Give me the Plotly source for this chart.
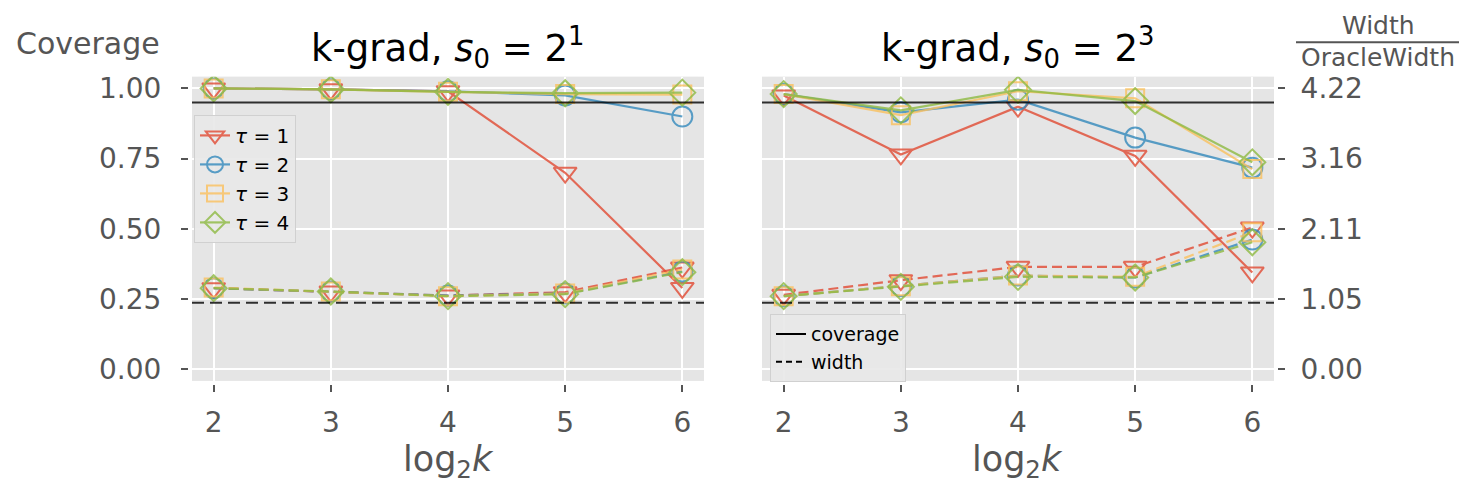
import plotly.graph_objects as go

# ---------------------------------------------------------------- data
log2k = [2, 3, 4, 5, 6]
tau_labels = ["<i>τ</i> = 1", "<i>τ</i> = 2", "<i>τ</i> = 3", "<i>τ</i> = 4"]

# k-grad, s0 = 2^1 : empirical coverage
cov_s1_tau1 = [1.000, 0.997, 0.990, 0.700, 0.290]
cov_s1_tau2 = [1.000, 0.997, 0.990, 0.975, 0.900]
cov_s1_tau3 = [1.000, 0.997, 0.988, 0.980, 0.978]
cov_s1_tau4 = [1.000, 0.997, 0.988, 0.983, 0.985]
# k-grad, s0 = 2^1 : width / oracle width
wid_s1_tau1 = [1.22, 1.17, 1.11, 1.16, 1.53]
wid_s1_tau2 = [1.22, 1.17, 1.11, 1.14, 1.47]
wid_s1_tau3 = [1.23, 1.17, 1.10, 1.14, 1.50]
wid_s1_tau4 = [1.22, 1.17, 1.10, 1.13, 1.46]

# k-grad, s0 = 2^3 : empirical coverage
cov_s3_tau1 = [0.975, 0.765, 0.935, 0.760, 0.345]
cov_s3_tau2 = [0.980, 0.915, 0.960, 0.825, 0.718]
cov_s3_tau3 = [0.980, 0.905, 0.990, 0.965, 0.713]
cov_s3_tau4 = [0.980, 0.922, 0.995, 0.955, 0.737]
# k-grad, s0 = 2^3 : width / oracle width
wid_s3_tau1 = [1.12, 1.34, 1.54, 1.54, 2.13]
wid_s3_tau2 = [1.10, 1.25, 1.41, 1.38, 1.95]
wid_s3_tau3 = [1.10, 1.25, 1.41, 1.39, 2.06]
wid_s3_tau4 = [1.10, 1.24, 1.39, 1.38, 1.91]

nominal_coverage = 0.95
oracle_ratio = 1.0
width_scale = 4.22          # width axis = coverage axis * width_scale
width_ticktext = ["0.00", "1.05", "2.11", "3.16", "4.22"]
coverage_ticks = [0.0, 0.25, 0.5, 0.75, 1.0]

panel_titles = ["k-grad, <i>s</i><sub>0</sub> = 2<sup>1</sup>",
                "k-grad, <i>s</i><sub>0</sub> = 2<sup>3</sup>"]

panels = [
    ([cov_s1_tau1, cov_s1_tau2, cov_s1_tau3, cov_s1_tau4],
     [wid_s1_tau1, wid_s1_tau2, wid_s1_tau3, wid_s1_tau4]),
    ([cov_s3_tau1, cov_s3_tau2, cov_s3_tau3, cov_s3_tau4],
     [wid_s3_tau1, wid_s3_tau2, wid_s3_tau3, wid_s3_tau4]),
]

# ---------------------------------------------------------------- style
W, H = 1461, 488
FONT = "DejaVu Sans"
GREY = "#555555"
colors = ["#E24A33", "#348ABD", "#FBC15E", "#8EBA42"]
symbols = ["triangle-down-open", "circle-open", "square-open", "diamond-open"]
sizes = [20, 20, 18, 20]
cov_lim = [-0.041, 1.042]
x_lim = [1.815, 6.185]


def px_x(p):
    return p / W


def px_y(p):
    return 1 - p / H


x_domains = [[px_x(192), px_x(704)], [px_x(762), px_x(1274)]]
y_domain = [px_y(384), px_y(74)]

fig = go.Figure()

axis_names = [("x", "y", "y2"), ("x2", "y3", "y4")]
for p, (covs, wids) in enumerate(panels):
    xa, ya_cov, ya_wid = axis_names[p]
    for i in range(4):
        fig.add_trace(go.Scatter(
            x=log2k, y=covs[i], xaxis=xa, yaxis=ya_cov,
            mode="lines+markers", name=tau_labels[i],
            legend="legend", showlegend=(p == 0),
            opacity=0.8,
            line=dict(color=colors[i], width=2.2),
            marker=dict(symbol=symbols[i], size=sizes[i],
                        color=colors[i], line=dict(width=2, color=colors[i])),
        ))
    for i in range(4):
        fig.add_trace(go.Scatter(
            x=log2k, y=wids[i], xaxis=xa, yaxis=ya_wid,
            mode="lines+markers", showlegend=False,
            opacity=0.8,
            line=dict(color=colors[i], width=2.2, dash="10px,5px"),
            marker=dict(symbol=symbols[i], size=sizes[i],
                        color=colors[i], line=dict(width=2, color=colors[i])),
        ))

# legend entries for the reference lines
fig.add_trace(go.Scatter(x=[None], y=[None], xaxis="x2", yaxis="y3",
                         mode="lines", name="coverage", legend="legend2",
                         line=dict(color="black", width=2)))
fig.add_trace(go.Scatter(x=[None], y=[None], xaxis="x2", yaxis="y3",
                         mode="lines", name="width", legend="legend2",
                         line=dict(color="black", width=2, dash="6px,4px")))

# nominal coverage and oracle width reference lines
shapes = []
for p in range(2):
    xa, ya_cov, ya_wid = axis_names[p]
    shapes.append(dict(type="line", xref=f"{xa} domain", yref=ya_cov,
                       x0=0, x1=1, y0=nominal_coverage, y1=nominal_coverage,
                       line=dict(color="rgba(0,0,0,0.8)", width=2)))
    shapes.append(dict(type="line", xref=f"{xa} domain", yref=ya_wid,
                       x0=0, x1=1, y0=oracle_ratio, y1=oracle_ratio,
                       line=dict(color="rgba(0,0,0,0.8)", width=2, dash="12px,6px")))
# fraction bar of the right-hand axis label
shapes.append(dict(type="line", xref="paper", yref="paper",
                   x0=px_x(1296), x1=px_x(1459), y0=px_y(39), y1=px_y(39),
                   line=dict(color=GREY, width=2)))

tickfont = dict(family=FONT, size=28, color=GREY)
common_x = dict(range=x_lim, tickvals=log2k, showgrid=True, gridcolor="white",
                gridwidth=2, zeroline=False, ticks="outside", ticklen=7,
                tickwidth=2, tickcolor=GREY, tickfont=tickfont,
                showline=True, linecolor="white", linewidth=4,
                ticklabelstandoff=6)
common_y = dict(range=cov_lim, tickvals=coverage_ticks, showgrid=True,
                gridcolor="white", gridwidth=2, zeroline=False)
wid_range = [cov_lim[0] * width_scale, cov_lim[1] * width_scale]

fig.update_layout(
    width=W, height=H,
    margin=dict(l=0, r=0, t=0, b=0),
    paper_bgcolor="white", plot_bgcolor="#E5E5E5",
    font=dict(family=FONT, color=GREY),
    xaxis=dict(domain=x_domains[0], anchor="y", **common_x),
    xaxis2=dict(domain=x_domains[1], anchor="y3", **common_x),
    yaxis=dict(domain=y_domain, anchor="x", tickformat=".2f", ticks="outside",
               ticklen=7, tickwidth=2, tickcolor=GREY, tickfont=tickfont,
               showline=True, linecolor="white", linewidth=4,
               ticklabelstandoff=14, **common_y),
    yaxis2=dict(overlaying="y", anchor="x", range=wid_range, visible=False),
    yaxis3=dict(domain=y_domain, anchor="x2", showticklabels=False, ticks="",
                **common_y),
    yaxis4=dict(overlaying="y3", anchor="x2", side="right", range=wid_range,
                tickvals=[t * width_scale for t in coverage_ticks],
                ticktext=width_ticktext, showgrid=False, zeroline=False,
                ticks="outside", ticklen=7, tickwidth=2, tickcolor=GREY,
                tickfont=tickfont, showline=True, linecolor="white",
                linewidth=4, ticklabelstandoff=10),
    legend=dict(x=px_x(194), y=px_y(113), xanchor="left", yanchor="top",
                bgcolor="rgba(232,232,232,0.9)", bordercolor="#D0D0D0",
                borderwidth=1, font=dict(family=FONT, size=20, color="black"),
                tracegroupgap=0, itemwidth=30),
    legend2=dict(x=px_x(770), y=px_y(316), xanchor="left", yanchor="top",
                 bgcolor="rgba(232,232,232,0.9)", bordercolor="#D0D0D0",
                 borderwidth=1, font=dict(family=FONT, size=19, color="black"),
                 tracegroupgap=0, itemwidth=30),
    shapes=shapes,
)

annotations = [
    dict(text="Coverage", x=px_x(88), y=px_y(40), font=dict(size=30, color=GREY)),
    dict(text="Width", x=px_x(1378), y=px_y(22), font=dict(size=25, color=GREY)),
    dict(text="OracleWidth", x=px_x(1378), y=px_y(55), font=dict(size=25, color=GREY)),
]
for p in range(2):
    cx = sum(x_domains[p]) / 2
    annotations.append(dict(text=panel_titles[p], x=cx, y=px_y(44),
                            font=dict(size=37, color="black")))
    annotations.append(dict(text="log<sub>2</sub><i>k</i>", x=cx, y=px_y(466),
                            font=dict(size=35, color=GREY)))
for a in annotations:
    a.update(xref="paper", yref="paper", showarrow=False,
             xanchor="center", yanchor="middle")
    a["font"]["family"] = FONT
fig.update_layout(annotations=annotations)

fig.write_html("out.html")
